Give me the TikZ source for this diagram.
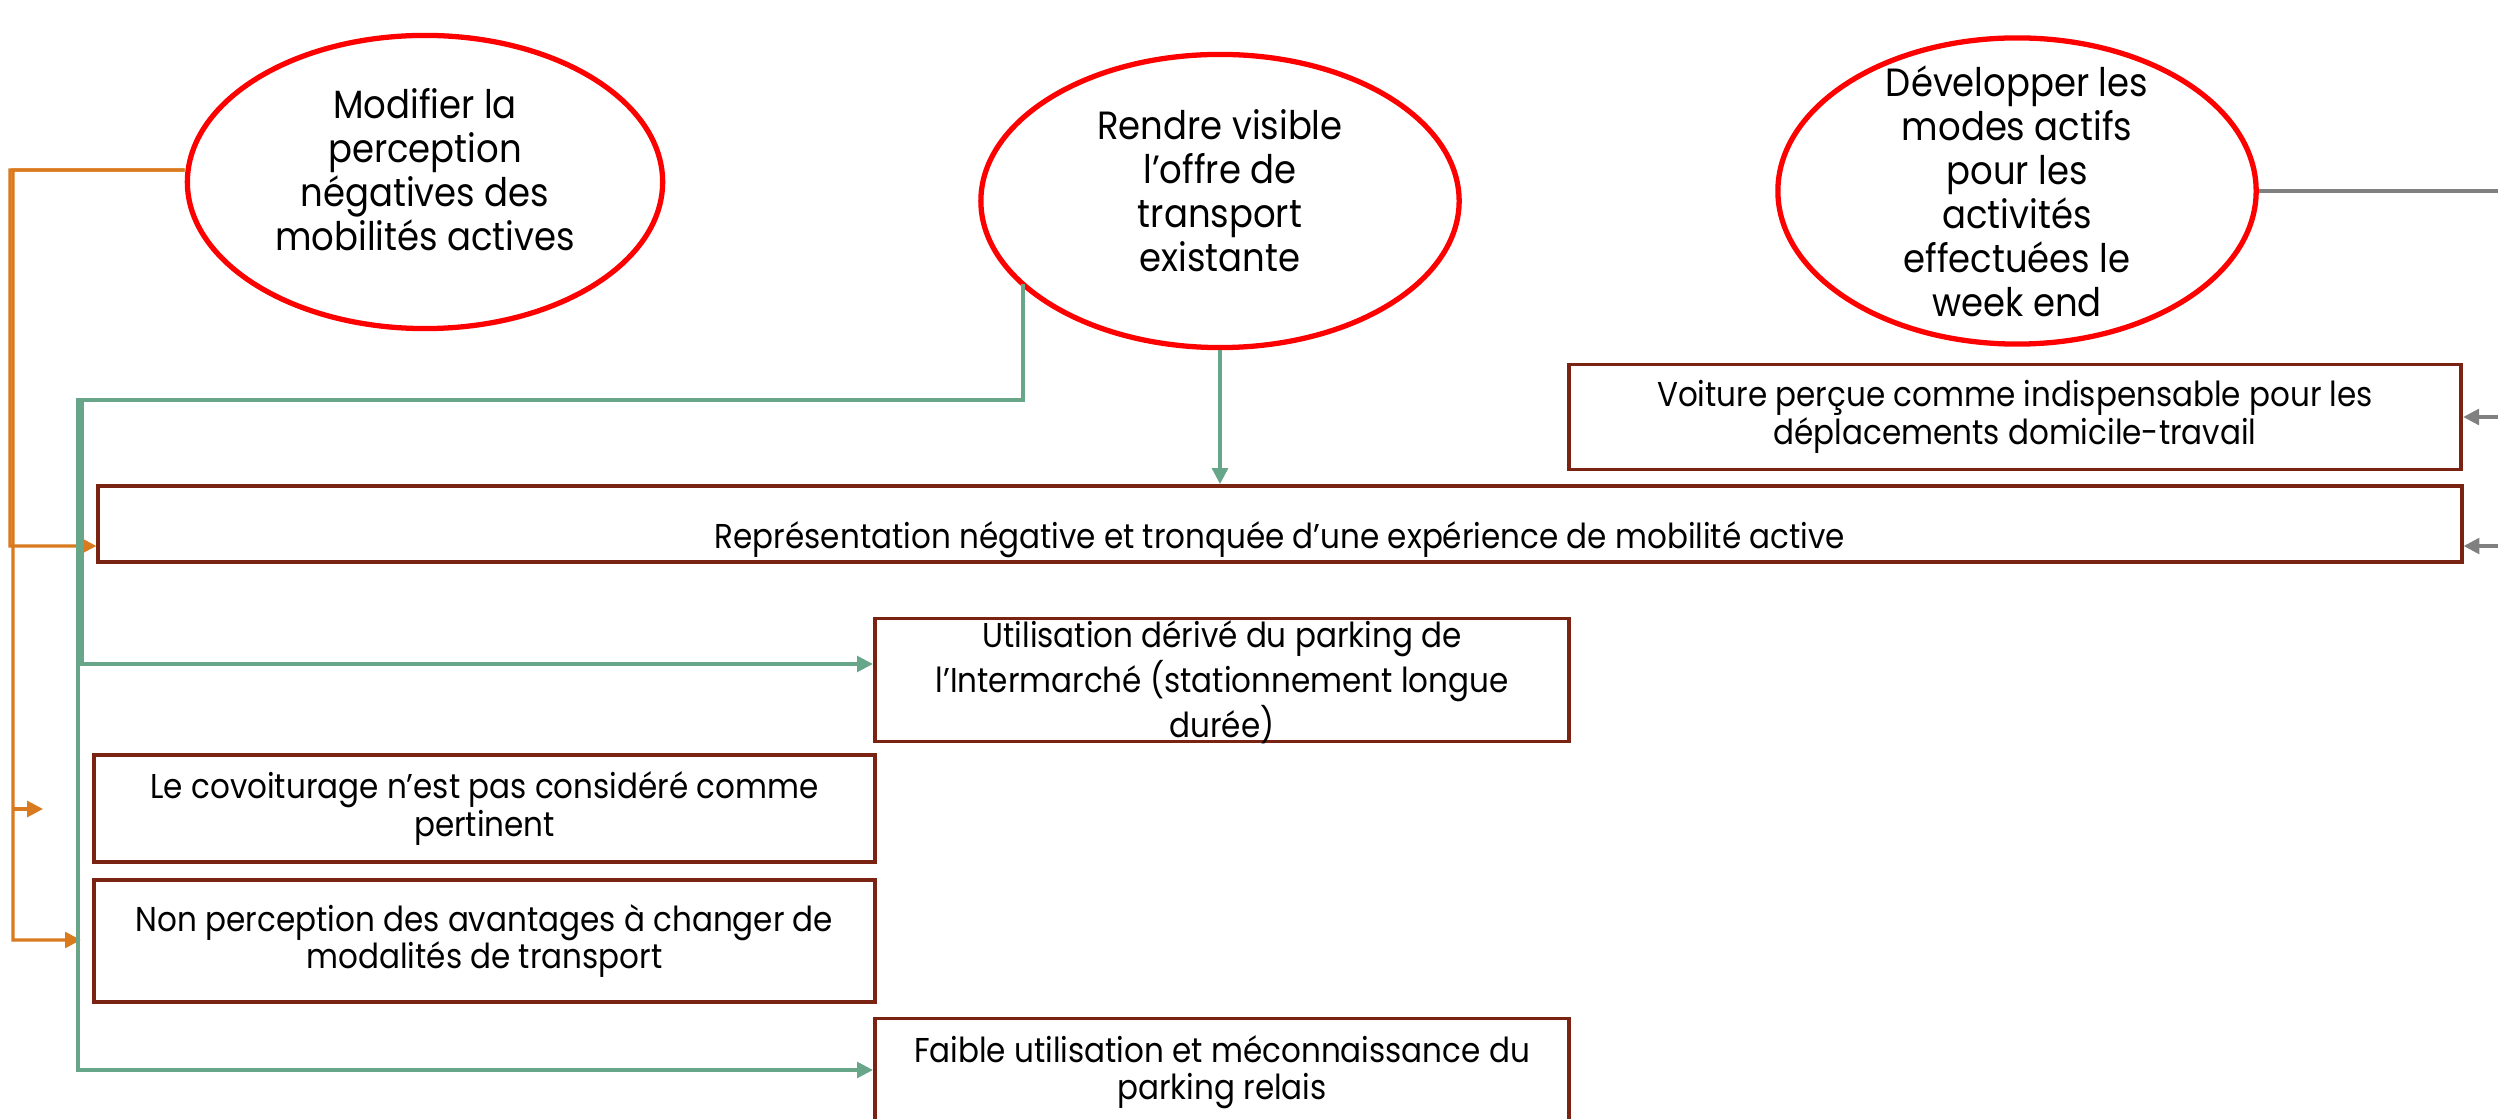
\documentclass[tikz,border=0pt]{standalone}
\usepackage{fontspec}
\setmainfont{Poppins}[FakeStretch=0.9]
\usetikzlibrary{shapes.geometric,arrows.meta,calc}
\definecolor{redc}{RGB}{255,0,0}
\definecolor{brownc}{RGB}{122,35,18}
\definecolor{orangec}{RGB}{217,122,30}
\definecolor{greenc}{RGB}{104,166,138}
\definecolor{grayc}{RGB}{128,128,128}
\begin{document}
\begin{tikzpicture}[x=0.01cm,y=-0.01cm,
  goal/.style={ellipse, draw=redc, line width=1.5pt, inner sep=0pt},
  goaltxt/.style={align=center, font=\fontsize{11.2}{12.5}\selectfont},
  boxfont/.style={font=\fontsize{9.8}{10.6}\selectfont},
  pbox/.style={rectangle, draw=brownc, line width=1.1pt, align=center, inner sep=0pt, boxfont},
  tip/.style={-{Triangle[length=4.5pt,width=4.5pt]}},
  org/.style={draw=orangec, line width=0.9pt, tip},
  grn/.style={draw=greenc, line width=0.9pt, tip},
  gry/.style={draw=grayc, line width=0.9pt}]
\useasboundingbox (0,0) rectangle (2498,1119);
\coordinate (rim) at (2498,0);
% goals
\node[goal, minimum width=4.75cm, minimum height=2.93cm,
  label={[goaltxt, yshift=0.12cm]center:{Modifier la\\perception\\négatives des\\mobilités actives}}] (e1) at (425,182) {};
\node[goal, minimum width=4.78cm, minimum height=2.93cm,
  label={[goaltxt, yshift=0.1cm]center:{Rendre visible\\l’offre de\\transport\\existante}}] (e2) at (1220,201) {};
\node[goal, minimum width=4.78cm, minimum height=3.06cm,
  label={[goaltxt]center:{Développer les\\modes actifs\\pour les\\activités\\effectuées le\\week end}}] (e3) at (2017,191) {};
% problems
\node[pbox, minimum width=8.92cm, minimum height=1.05cm] (v) at (2015,417) {Voiture perçue comme indispensable pour les\\déplacements domicile-travail};
\node[pbox, minimum width=23.62cm, minimum height=0.76cm,
  label={[boxfont, yshift=-0.16cm]center:{Représentation négative et tronquée d’une expérience de mobilité active}}] (r) at (1280,524) {};
\node[pbox, minimum width=6.94cm, minimum height=1.23cm,
  label={[boxfont, align=center, yshift=-0.02cm]center:{Utilisation dérivé du parking de\\l’Intermarché (stationnement longue\\durée)}}] (u) at (1222,680) {};
\node[pbox, minimum width=7.81cm, minimum height=1.07cm] (c) at (484.5,808.5) {Le covoiturage n’est pas considéré comme\\pertinent};
\node[pbox, minimum width=7.81cm, minimum height=1.22cm] (n) at (484.5,941) {Non perception des avantages à changer de\\modalités de transport};
\node[pbox, minimum width=6.94cm, minimum height=1.23cm,
  label={[boxfont, align=center, yshift=0.08cm]center:{Faible utilisation et méconnaissance du\\parking relais}}] (f) at (1222,1080) {};
% orange connectors
\coordinate (ob) at (13,809);
\coordinate (oe) at (43,809);
\draw[org] ([yshift=0.12cm]e1.west) -- (10,170) |- ([yshift=-0.22cm]r.west);
\draw[org] ([yshift=0.12cm]e1.west) -- (13,170) |- ([xshift=-0.11cm,yshift=0.01cm]n.west);
\draw[org] (ob) -- (oe);
% green connectors
\coordinate (g0) at ($(e2.center)+(-197,83)$);
\draw[grn] (g0) |- (82,400) |- ([yshift=0.16cm]u.west);
\draw[grn] (g0) |- (78,400) |- ([yshift=0.1cm]f.west);
\draw[grn] (e2.south) -- (e2.south |- r.north);
% gray connectors
\draw[gry] (e3.east) -- (e3.east -| rim);
\draw[gry, tip] (v.east -| rim) -- (v.east);
\draw[gry, tip] ([yshift=-0.22cm]r.east -| rim) -- ([yshift=-0.22cm]r.east);
\end{tikzpicture}
\end{document}
